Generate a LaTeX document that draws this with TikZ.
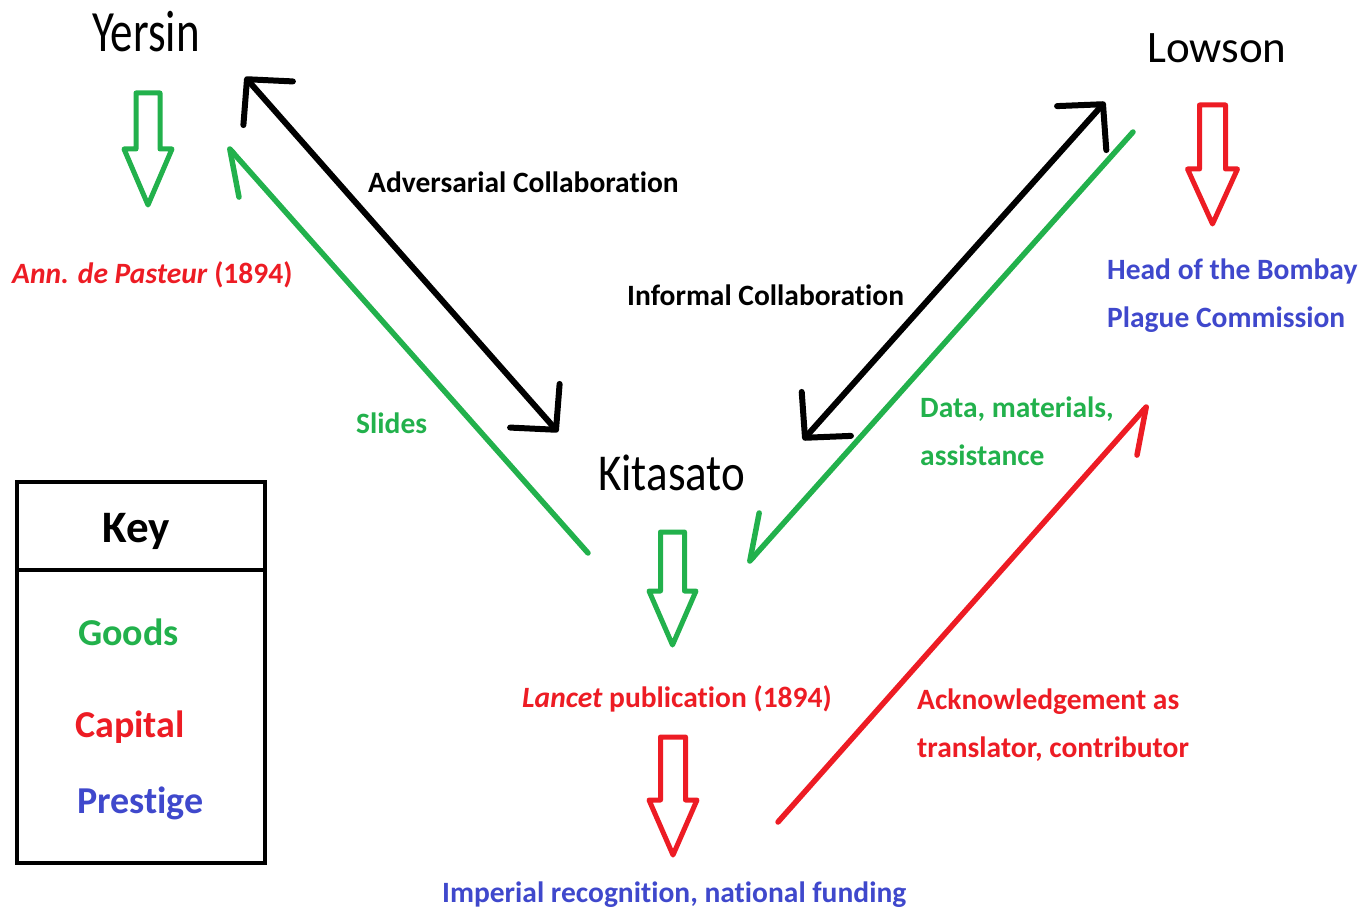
\documentclass[tikz,border=0pt]{standalone}
\usepackage{fontspec}
\setmainfont{Carlito}[Ligatures=NoCommon]
\usetikzlibrary{arrows.meta}
\definecolor{pgreen}{RGB}{34,177,76}
\definecolor{pred}{RGB}{237,28,36}
\definecolor{pblue}{RGB}{63,72,204}
\newcommand\vst[2]{\scalebox{1}[#1]{#2}}
\newcommand\blockarrow[7]{%
  \draw[#1, blockarr] (#2-#6,#3) -- (#2+#6,#3) -- (#2+#6,#4) -- (#2+#7,#4)
    -- (#2,#5) -- (#2-#7,#4) -- (#2-#6,#4) -- cycle;}
\begin{document}
\begin{tikzpicture}[x=1pt,y=-1pt,
  person/.style={font=\fontsize{45}{50}\selectfont, inner sep=0, anchor=base west},
  lbl/.style={font=\bfseries\fontsize{29.5}{47.5}\selectfont, inner sep=0, anchor=base west, align=left},
  keyitem/.style={font=\bfseries\fontsize{38}{40}\selectfont, inner sep=0, anchor=base west},
  blockarr/.style={line width=5pt, line join=round, fill=white},
  collab/.style={line width=6pt, line cap=round, black,
    {Straight Barb[round, length=32pt, width=66pt]}-{Straight Barb[round, length=32pt, width=66pt]}},
  flow/.style={line width=5.5pt, line cap=round,
    -{Straight Barb[round, harpoon, length=42pt, width=50pt]}},
  flowswap/.style={line width=5.5pt, line cap=round,
    -{Straight Barb[round, harpoon, swap, length=42pt, width=50pt]}}]
\useasboundingbox (0,0) rectangle (1364,909);

% names
\node[person] (yersin) at (92,52) {\vst{1.3}{Yersin}};
\node[person] (lowson) at (1147,63) {Lowson};
\node[person] (kitasato) at (598,490) {\vst{1.15}{Kitasato}};

% outcomes and labels (base anchor = baseline of the last line)
\node[lbl, text=pred] (ann) at (12,283) {\textit{Ann. de Pasteur} (1894)};
\node[lbl, text=pblue] (head) at (1107,327) {Head of the Bombay\\Plague Commission};
\node[lbl, text=pred] (lancet) at (522,707) {\textit{Lancet} publication (1894)};
\node[lbl, text=pblue] (imperial) at (442,902) {Imperial recognition, national funding};
\node[lbl] (adv) at (368,193) {Adversarial Collaboration};
\node[lbl] (inf) at (627,305) {Informal Collaboration};
\node[lbl, text=pgreen] (slides) at (356,433) {Slides};
\node[lbl, text=pgreen] (data) at (920,465) {Data, materials,\\assistance};
\node[lbl, text=pred] (ack) at (917,757) {Acknowledgement as\\translator, contributor};

% block arrows
\blockarrow{pgreen}{148}{93}{149}{205}{12}{24}
\blockarrow{pgreen}{672.5}{532}{591}{645}{12}{23.5}
\blockarrow{pred}{1212.5}{105}{169}{224}{13}{25}
\blockarrow{pred}{673}{737}{800}{855}{12.5}{24}

% connector ends
\coordinate (yA) at (245,77);
\coordinate (kA) at (558,432);
\coordinate (lA) at (1105,102);
\coordinate (kB) at (803,440);
\coordinate (kS) at (588,553);
\coordinate (yS) at (228,147);
\coordinate (lD) at (1133,132);
\coordinate (kD) at (748,563);
\coordinate (kR) at (778,822);
\coordinate (lR) at (1148,405);

\draw[collab] (yA) -- (kA);
\draw[collab] (lA) -- (kB);
\draw[flow, pgreen] (kS) -- (yS);
\draw[flowswap, pgreen] (lD) -- (kD);
\draw[flowswap, pred] (kR) -- (lR);

% key
\draw[line width=4pt] (17,482) rectangle (265,863);
\draw[line width=4pt] (17,570) -- (265,570);
\node[font=\bfseries\fontsize{45}{50}\selectfont, inner sep=0, anchor=base] (key) at (136,542) {Key};
\node[keyitem, text=pgreen] (goods) at (78,645) {Goods};
\node[keyitem, text=pred] (capital) at (75,737) {Capital};
\node[keyitem, text=pblue] (prestige) at (77,813) {Prestige};
\end{tikzpicture}
\end{document}
